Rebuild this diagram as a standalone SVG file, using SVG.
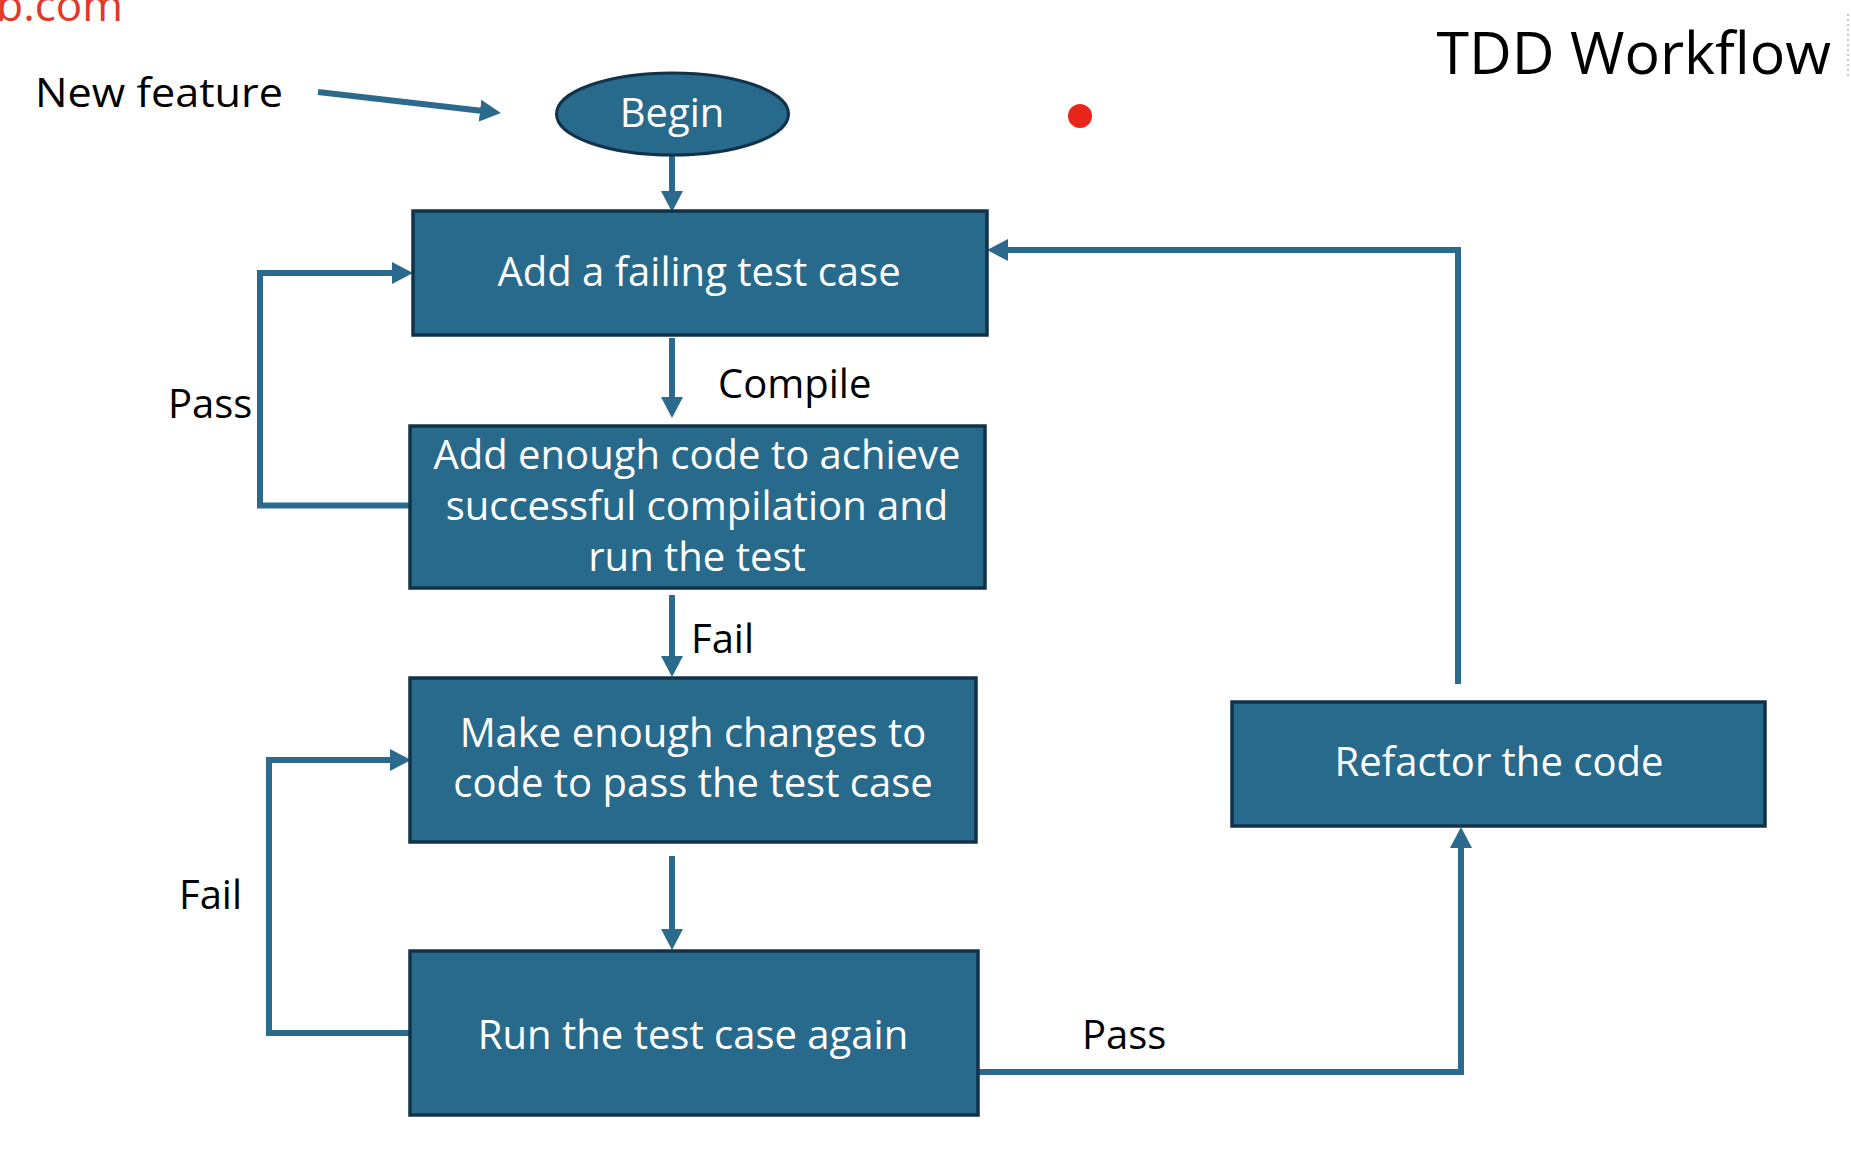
<svg xmlns="http://www.w3.org/2000/svg" width="1851" height="1156" viewBox="0 0 1851 1156">
<defs>
<style>
.box{fill:#286a8c;stroke:#12324a;stroke-width:3.5}
.bt{fill:#ffffff;font-family:"Open Sans","Noto Sans","Liberation Sans",sans-serif;font-size:40px;text-anchor:middle}
.lbl{fill:#000000;font-family:"Open Sans","Noto Sans","Liberation Sans",sans-serif;font-size:40px}
.con{fill:none;stroke:#2b6a8c;stroke-width:6}
</style>
<marker id="ah" markerUnits="userSpaceOnUse" markerWidth="21" markerHeight="24" refX="1" refY="12" orient="auto" viewBox="0 0 21 24">
<path d="M0,1 L21,12 L0,23 Z" fill="#2b6a8c"/>
</marker>
</defs>
<rect x="0" y="0" width="1851" height="1156" fill="#ffffff"/>

<g id="decor">
<text x="123" y="21" text-anchor="end" font-family="'Open Sans','Noto Sans',sans-serif" font-size="44" fill="#e2382b">b.com</text>
<text x="1831" y="74" text-anchor="end" font-family="'Open Sans','Noto Sans',sans-serif" font-size="59" fill="#000000">TDD Workflow</text>
<line x1="1848" y1="14" x2="1848" y2="76" stroke="#c4c4c4" stroke-width="2" stroke-dasharray="2 3"/>
<circle cx="1080" cy="116" r="12" fill="#e8261c"/>
<text class="lbl" x="35" y="107" font-size="44" textLength="248" lengthAdjust="spacingAndGlyphs">New feature</text>
</g>

<g id="connectors">
<path class="con" d="M318,92 L481,110.8" stroke-width="7" marker-end="url(#ah)"/>
<path class="con" d="M672,155 V192" stroke-width="5" marker-end="url(#ah)"/>
<path class="con" d="M672,338 V398" stroke-width="5" marker-end="url(#ah)"/>
<path class="con" d="M672,595 V657" stroke-width="5" marker-end="url(#ah)"/>
<path class="con" d="M672,856 V930" stroke-width="5" marker-end="url(#ah)"/>
<path class="con" d="M410,505.5 H260 V273 H393" marker-end="url(#ah)"/>
<path class="con" d="M410,1033 H269 V760 H391" marker-end="url(#ah)"/>
<path class="con" d="M978,1072 H1461 V847" marker-end="url(#ah)"/>
<path class="con" d="M1458,684 V250 H1007" marker-end="url(#ah)"/>
<text class="lbl" x="718" y="398">Compile</text>
<text class="lbl" x="168" y="418">Pass</text>
<text class="lbl" x="691" y="653">Fail</text>
<text class="lbl" x="179" y="909">Fail</text>
<text class="lbl" x="1082" y="1049">Pass</text>
</g>

<g id="begin">
<ellipse cx="672.5" cy="114" rx="116" ry="41" fill="#286a8c" stroke="#12324a" stroke-width="3"/>
<text class="bt" x="672" y="127">Begin</text>
</g>

<g id="add-failing-test">
<rect class="box" x="413" y="211" width="574" height="124"/>
<text class="bt" x="699" y="286">Add a failing test case</text>
</g>

<g id="add-enough-code">
<rect class="box" x="410" y="426" width="575" height="162"/>
<text class="bt" x="697" y="469">Add enough code to achieve</text>
<text class="bt" x="697" y="520">successful compilation and</text>
<text class="bt" x="697" y="571">run the test</text>
</g>

<g id="make-changes">
<rect class="box" x="410" y="678" width="566" height="164"/>
<text class="bt" x="693" y="747">Make enough changes to</text>
<text class="bt" x="693" y="797">code to pass the test case</text>
</g>

<g id="run-again">
<rect class="box" x="410" y="951" width="568" height="164"/>
<text class="bt" x="693" y="1049">Run the test case again</text>
</g>

<g id="refactor">
<rect class="box" x="1232" y="702" width="533" height="124"/>
<text class="bt" x="1499" y="776">Refactor the code</text>
</g>
</svg>
